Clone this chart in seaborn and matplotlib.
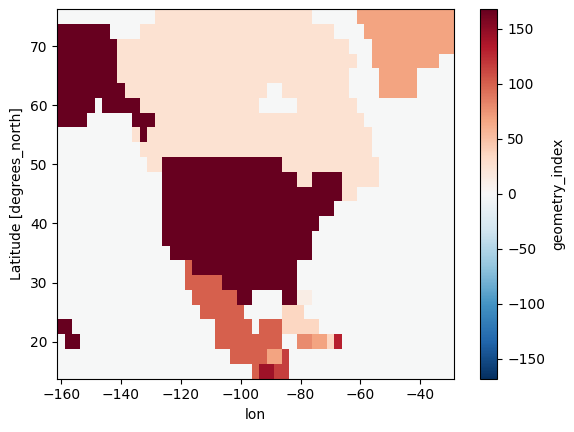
import numpy as np
import pandas as pd
import matplotlib
matplotlib.use("Agg")
import matplotlib.pyplot as plt
import seaborn as sns

lon = np.arange(-160.0, -29.0, 2.5)
lat = np.arange(75.0, 14.0, -2.5)

# category -> geometry_index value
codes = dict(w=-1, c=25, g=67, D=168, m=101, p=12, P=36, o=80, s=67, r=130, e=116, R=142)

# run-length rows, top (75N) to bottom (15N)
rows = [
    "w13 c21 w6 g13",
    "D7 w4 c26 w4 g12",
    "D8 c31 w3 g11",
    "D8 c32 w2 g9 w2",
    "D8 c31 w4 g5 w5",
    "D9 c19 w2 c9 w4 g5 w5",
    "D5 w1 D5 c16 w5 c8 w13",
    "D4 w6 D3 c28 w12",
    "w10 c1 D1 c30 w11",
    "w11 c31 w11",
    "w12 c2 D16 c13 w10",
    "w14 D18 c2 D4 c5 w10",
    "w14 D24 c2 w13",
    "w14 D23 w16",
    "w14 D21 w18",
    "w14 D20 w19",
    "w15 D19 w19",
    "w17 m1 D14 w21",
    "w17 m5 D10 w21",
    "w18 m6 D2 w4 D2 p2 w19",
    "w19 m6 w5 P3 w20",
    "D2 w19 m5 w1 m3 P5 w18",
    "w1 D2 w18 m9 w2 o2 s2 P1 r1 w15",
    "w23 m5 s2 e1 w22",
    "w26 m1 R2 e2 w22",
]

xticks = [-160, -140, -120, -100, -80, -60, -40]
yticks = [20, 30, 40, 50, 60, 70]
cticks = [-150, -100, -50, 0, 50, 100, 150]
vmax = 168


def decode(row):
    out = []
    for tok in row.split():
        out += [codes[tok[0]]] * int(tok[1:])
    return out


grid = pd.DataFrame([decode(r) for r in rows], index=lat, columns=lon)

W, H = 574, 432
fig = plt.figure(figsize=(W / 100, H / 100), dpi=100)
ax = fig.add_axes([57.4 / W, 1 - 378.6 / H, 396.6 / W, 369.4 / H])
cax = fig.add_axes([479.5 / W, 1 - 378.6 / H, 18.0 / W, 369.4 / H])

sns.heatmap(grid, ax=ax, cbar_ax=cax, cmap="RdBu_r", vmin=-vmax, vmax=vmax,
            xticklabels=False, yticklabels=False,
            cbar_kws={"label": "geometry_index", "ticks": cticks})

ax.set_xticks(np.interp(xticks, lon, np.arange(len(lon)) + 0.5))
ax.set_xticklabels([str(t).replace("-", "\u2212") for t in xticks], rotation=0)
ax.set_yticks(np.interp(yticks, lat[::-1], (np.arange(len(lat)) + 0.5)[::-1]))
ax.set_yticklabels([str(t) for t in yticks], rotation=0)
ax.tick_params(left=True, bottom=True, length=3.5, width=0.8)
ax.set_xlabel("lon")
ax.set_ylabel("Latitude [degrees_north]")
for s in ax.spines.values():
    s.set_visible(True)
    s.set_linewidth(0.8)
cb = ax.collections[0].colorbar
cb.outline.set_visible(True)
cb.outline.set_linewidth(0.8)
cax.tick_params(length=3.5, width=0.8)

fig.savefig("out.png", dpi=100)
